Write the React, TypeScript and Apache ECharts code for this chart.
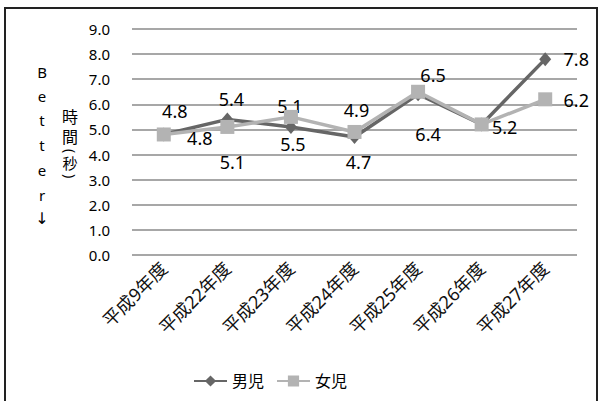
import React, { useEffect, useRef } from "react";
import * as echarts from "echarts";

const categories = ["平成9年度", "平成22年度", "平成23年度", "平成24年度", "平成25年度", "平成26年度", "平成27年度"];
const boys = [4.8, 5.4, 5.1, 4.7, 6.4, 5.2, 7.8];
const girls = [4.8, 5.1, 5.5, 4.9, 6.5, 5.2, 6.2];
const yTicks = { min: 0, max: 9, interval: 1 };
// label offsets relative to the point (dx, dy); null hides the label
const boysLabelOffsets: ([number, number] | null)[] = [[11, -23], [4, -20], [-1, -21], [4, 25], [10, 40], null, [31, 0]];
const girlsLabelOffsets: ([number, number] | null)[] = [[36, 4], [5, 35], [2, 27], [2, -22], [15, -17], [23, 3], [31, 1]];

const FONT = "'Noto Sans', 'Noto Sans CJK JP', sans-serif";

function buildData(values: number[], offsets: ([number, number] | null)[]) {
  return values.map((v, i) => {
    const off = offsets[i];
    return {
      value: v,
      label: off
        ? { show: true, position: "inside", offset: off }
        : { show: false },
    };
  });
}

export default function App() {
  const ref = useRef<HTMLDivElement>(null);
  useEffect(() => {
    if (!ref.current) return;
    const chart = echarts.init(ref.current, undefined, { renderer: "svg" });
    const labelStyle = {
      fontSize: 18,
      color: "#000",
      fontFamily: FONT,
      align: "center",
      verticalAlign: "middle",
      formatter: (p: any) => Number(p.value).toFixed(1),
    };
    const vt = (text: string, x: number, y: number, size: number, family = FONT) => ({
      type: "text",
      x,
      y,
      style: { text, fontSize: size, fill: "#000", fontFamily: family, align: "center", verticalAlign: "middle" },
    });
    const rotatedParen = (text: string, x: number, y: number) => ({
      type: "group",
      x,
      y,
      rotation: -Math.PI / 2,
      children: [
        {
          type: "text",
          x: 0,
          y: 0,
          style: { text, fontSize: 14, fill: "#000", fontFamily: FONT, align: "center", verticalAlign: "middle" },
        },
      ],
    });
    chart.setOption({
      animation: false,
      backgroundColor: "#fff",
      grid: { left: 132, right: 29, top: 29, bottom: 146 },
      xAxis: {
        type: "category",
        data: categories,
        boundaryGap: true,
        axisLine: { show: false },
        axisTick: { show: false },
        axisLabel: {
          rotate: 45,
          fontSize: 18,
          color: "#111",
          fontFamily: FONT,
          margin: 10,
          interval: 0,
        },
      },
      yAxis: {
        type: "value",
        min: yTicks.min,
        max: yTicks.max,
        interval: yTicks.interval,
        axisLine: { show: false },
        axisTick: { show: false },
        axisLabel: {
          fontSize: 15,
          color: "#000",
          fontFamily: FONT,
          margin: 22,
          formatter: (v: number) => v.toFixed(1),
        },
        splitLine: { lineStyle: { color: "#8a8a8a", width: 1.5 } },
      },
      legend: {
        left: 188,
        top: 368,
        itemWidth: 33,
        itemHeight: 14,
        itemGap: 12,
        textStyle: { fontSize: 16, color: "#000", fontFamily: FONT },
        data: ["男児", "女児"],
      },
      series: [
        {
          name: "男児",
          type: "line",
          data: buildData(boys, boysLabelOffsets),
          symbol: "diamond",
          symbolSize: [12, 14],
          lineStyle: { color: "#666666", width: 3.5 },
          itemStyle: { color: "#666666" },
          label: labelStyle,
          z: 2,
        },
        {
          name: "女児",
          type: "line",
          data: buildData(girls, girlsLabelOffsets),
          symbol: "rect",
          symbolSize: 14,
          lineStyle: { color: "#b3b3b3", width: 3.5 },
          itemStyle: { color: "#b3b3b3" },
          label: labelStyle,
          z: 3,
        },
      ],
      graphic: [
        {
          type: "rect",
          shape: { x: 5, y: 8, width: 592, height: 400 },
          style: { fill: "none", stroke: "#222", lineWidth: 2 },
          silent: true,
        },
        vt("B", 42, 72, 15),
        vt("e", 42, 96, 15),
        vt("t", 42, 120, 15),
        vt("t", 42, 145, 15),
        vt("e", 42, 170, 15),
        vt("r", 42, 195, 15),
        vt("↓", 42, 218, 16, "'DejaVu Sans', sans-serif"),
        vt("時", 70, 117, 16),
        vt("間", 70, 137, 16),
        rotatedParen("(", 70, 151),
        vt("秒", 70, 163, 15),
        rotatedParen(")", 70, 176),
      ],
    });
    return () => chart.dispose();
  }, []);
  return <div ref={ref} style={{ position: "fixed", left: 0, top: 0, width: 606, height: 401 }} />;
}
